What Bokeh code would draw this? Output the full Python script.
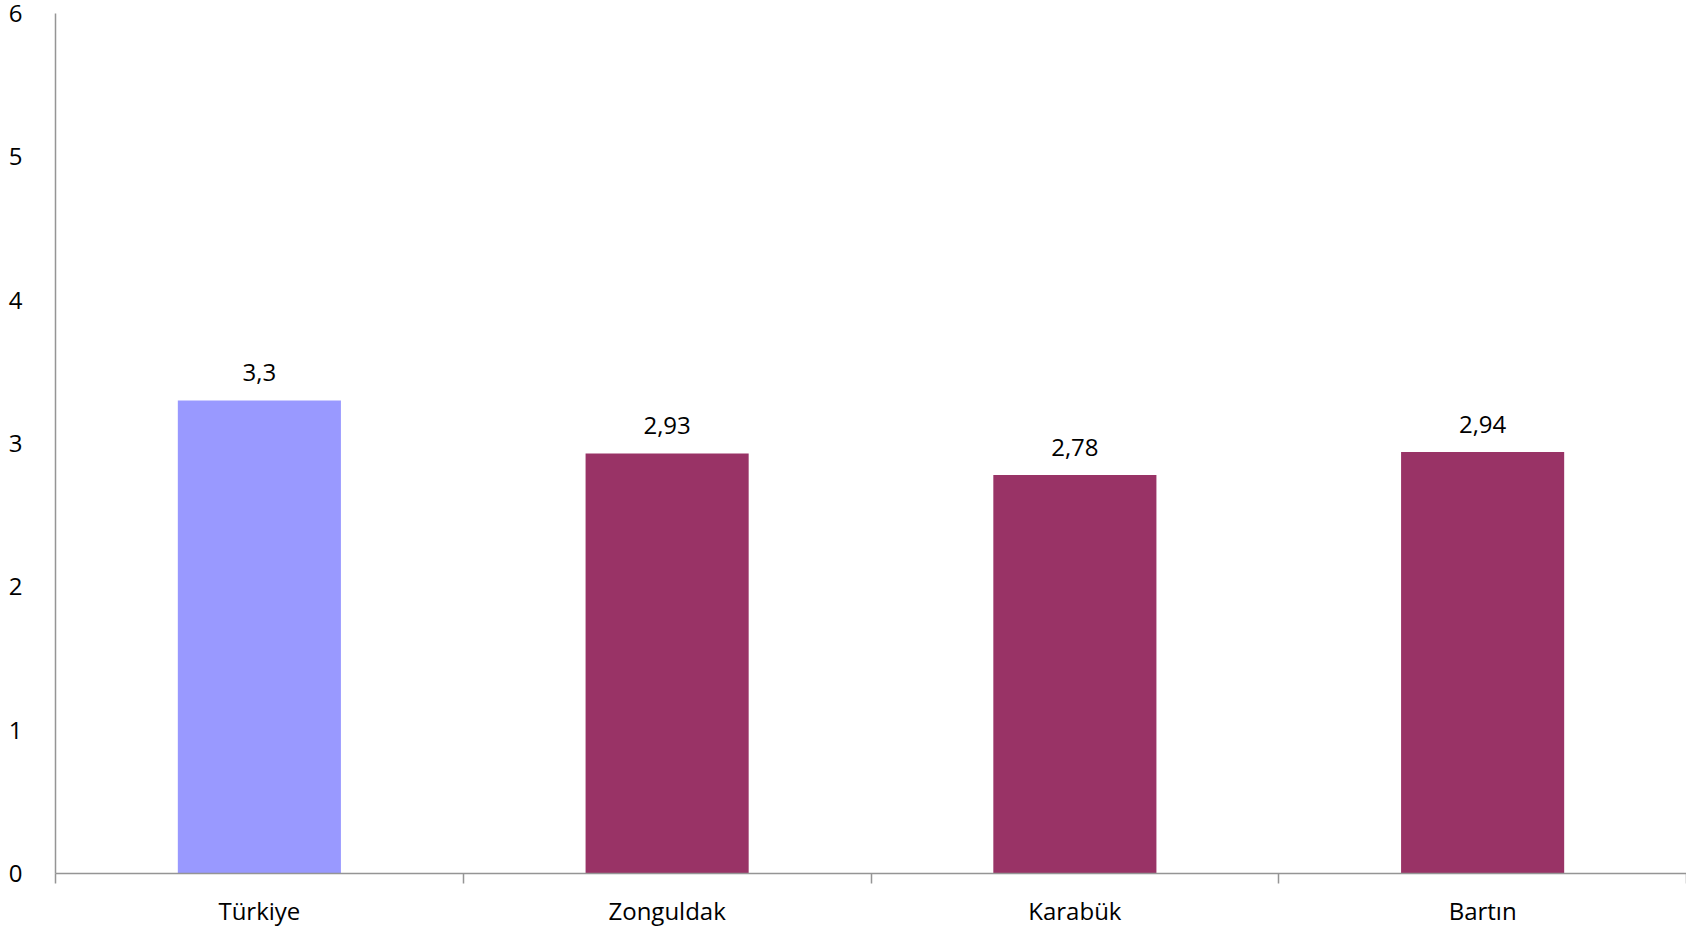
from bokeh.plotting import figure
from bokeh.models import Range1d, FixedTicker, ColumnDataSource
from bokeh.core.properties import value
from bokeh.embed import file_html
from bokeh.resources import INLINE

categories = ["Türkiye", "Zonguldak", "Karabük", "Bartın"]
values = [3.3, 2.93, 2.78, 2.94]
labels = ["3,3", "2,93", "2,78", "2,94"]
colors = ["#9999FF", "#993366", "#993366", "#993366"]
y_ticks = [0, 1, 2, 3, 4, 5, 6]

FONT = "Open Sans"
AXIS_COLOR = "#959595"
xs = [i + 0.5 for i in range(len(categories))]
src = ColumnDataSource(dict(x=xs, top=values, label=labels, color=colors))

p = figure(width=1686, height=929, output_backend="svg", toolbar_location=None,
           x_range=Range1d(0, len(categories)), y_range=Range1d(0, 6),
           min_border_left=55, min_border_right=0, min_border_top=13, min_border_bottom=49)
p.outline_line_color = None
p.grid.grid_line_color = None

p.vbar(x="x", top="top", width=0.4, source=src, fill_color="color", line_color=None)
p.text(x="x", y="top", text="label", source=src, text_align="center",
       text_baseline="alphabetic", y_offset=-28, text_font=value(FONT),
       text_font_size="24px", text_color="#000000")

xa = p.xaxis[0]
xa.ticker = FixedTicker(ticks=xs, minor_ticks=list(range(len(categories) + 1)))
xa.major_label_overrides = {x: c for x, c in zip(xs, categories)}
xa.major_tick_line_color = None
xa.major_tick_out = 0
xa.major_tick_in = 0
xa.minor_tick_out = 10
xa.minor_tick_in = 0
xa.minor_tick_line_color = AXIS_COLOR
xa.minor_tick_line_width = 1.5
xa.axis_line_color = AXIS_COLOR
xa.axis_line_width = 1.5
xa.major_label_text_font = FONT
xa.major_label_text_font_size = "24px"
xa.major_label_text_color = "#000000"
xa.major_label_text_line_height = 0.9
xa.major_label_standoff = 10

ya = p.yaxis[0]
ya.ticker = FixedTicker(ticks=y_ticks, minor_ticks=[])
ya.major_tick_line_color = None
ya.minor_tick_line_color = None
ya.axis_line_color = AXIS_COLOR
ya.axis_line_width = 1.5
ya.major_label_text_font = FONT
ya.major_label_text_font_size = "24px"
ya.major_label_text_color = "#000000"
ya.major_label_standoff = 27

open("out.html", "w").write(file_html(p, INLINE))
